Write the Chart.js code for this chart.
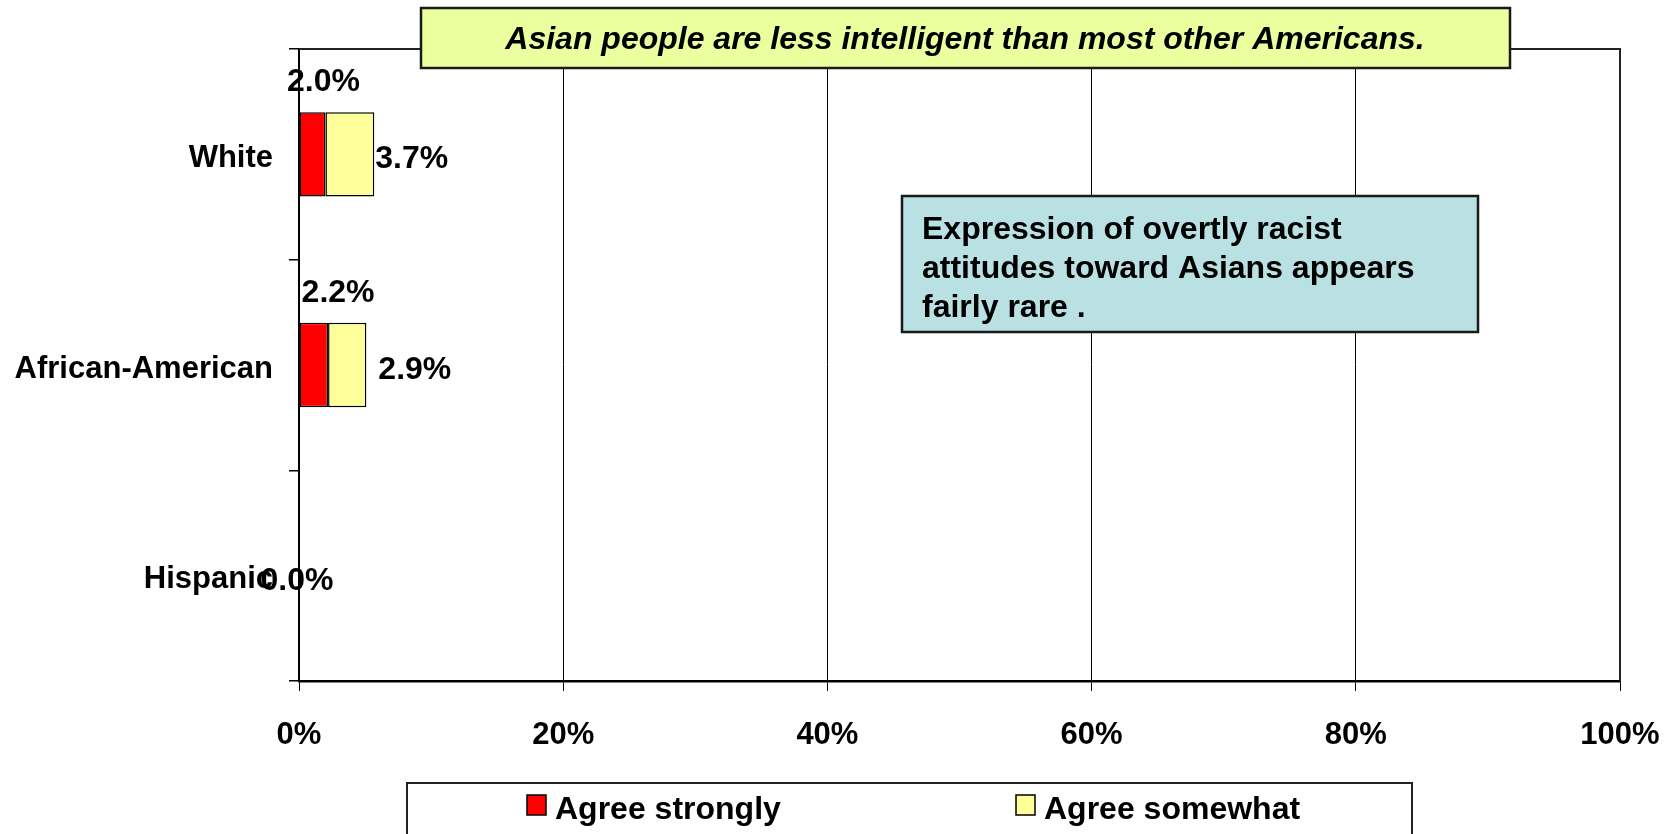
<!DOCTYPE html>
<html>
<head>
<meta charset="utf-8">
<script src="https://cdn.jsdelivr.net/npm/chart.js@4"></script>
<style>
html,body{margin:0;padding:0;background:#fff;}
#wrap{width:1677px;height:834px;}
</style>
</head>
<body>
<div id="wrap"><canvas id="c" width="1677" height="834"></canvas></div>
<script>
const categories = ['White', 'African-American', 'Hispanic'];
const seriesNames = ['Agree strongly', 'Agree somewhat'];
const agreeStrongly = [2.0, 2.2, 0.0];
const agreeSomewhat = [3.7, 2.9, 0.0];
const xTickValues = [0, 20, 40, 60, 80, 100];
const titleText = 'Asian people are less intelligent than most other Americans.';
const noteLines = ['Expression of overtly racist', 'attitudes toward Asians appears', 'fairly rare .'];

const FONT = '"Liberation Sans", Arial, sans-serif';
const fmt = v => v.toFixed(1) + '%';

const decorPlugin = {
  id: 'decor',
  beforeDatasetsDraw(chart) {
    const ctx = chart.ctx, a = chart.chartArea;
    ctx.save();
    ctx.strokeStyle = '#222';
    ctx.lineWidth = 2;
    ctx.beginPath();
    ctx.moveTo(a.left, a.top);
    ctx.lineTo(a.right, a.top);
    ctx.lineTo(a.right, a.bottom);
    ctx.stroke();
    ctx.restore();
  },
  afterDatasetsDraw(chart) {
    const ctx = chart.ctx;
    ctx.save();
    ctx.fillStyle = '#000';
    ctx.font = 'bold 32px ' + FONT;
    const m0 = chart.getDatasetMeta(0), m1 = chart.getDatasetMeta(1);
    const d0 = chart.data.datasets[0].data, d1 = chart.data.datasets[1].data;
    for (let i = 0; i < d0.length; i++) {
      const e0 = m0.data[i], e1 = m1.data[i];
      if (d0[i] === 0 && d1[i] === 0) {
        ctx.textAlign = 'center'; ctx.textBaseline = 'middle';
        ctx.fillText(fmt(0), e1.x - 2, e1.y + 6);
        continue;
      }
      ctx.textAlign = 'center'; ctx.textBaseline = 'middle';
      ctx.fillText(fmt(d0[i]), e0.x + 1 + (i === 0 ? -3 : 9), e0.y - e0.height / 2 - 30);
      ctx.textAlign = 'left';
      ctx.fillText(fmt(d1[i]), e1.x + (i === 0 ? 1 : 12), e1.y + 5);
    }
    ctx.restore();
  },
  afterDraw(chart) {
    const ctx = chart.ctx;
    ctx.save();
    ctx.fillStyle = '#EBFF9E';
    ctx.fillRect(421, 8, 1089, 60);
    ctx.strokeStyle = '#1a1a1a';
    ctx.lineWidth = 2.5;
    ctx.strokeRect(421, 8, 1089, 60);
    ctx.fillStyle = '#000';
    ctx.font = 'italic bold 32px ' + FONT;
    ctx.textAlign = 'center'; ctx.textBaseline = 'middle';
    ctx.fillText(titleText, 965, 40);
    ctx.fillStyle = '#B9E0E3';
    ctx.fillRect(902, 196, 576, 136);
    ctx.strokeRect(902, 196, 576, 136);
    ctx.fillStyle = '#000';
    ctx.font = 'bold 32px ' + FONT;
    ctx.textAlign = 'left';
    noteLines.forEach((t, k) => ctx.fillText(t, 922, 230 + k * 39));
    ctx.fillStyle = '#fff';
    ctx.lineWidth = 2;
    ctx.strokeStyle = '#222';
    ctx.fillRect(407, 783, 1005, 60);
    ctx.strokeRect(407, 783, 1005, 60);
    const lx = [527, 1016];
    chart.data.datasets.forEach((ds, k) => {
      ctx.fillStyle = ds.backgroundColor;
      ctx.fillRect(lx[k], 795, 19, 20);
      ctx.lineWidth = 1.5;
      ctx.strokeStyle = '#000';
      ctx.strokeRect(lx[k], 795, 19, 20);
      ctx.fillStyle = '#000';
      ctx.textAlign = 'left';
      ctx.fillText(ds.label, lx[k] + 28, 810);
    });
    ctx.restore();
  }
};

new Chart(document.getElementById('c'), {
  type: 'bar',
  data: {
    labels: categories,
    datasets: [
      { label: seriesNames[0], data: agreeStrongly, backgroundColor: '#FF0000', borderColor: '#000', borderWidth: 1.5, borderSkipped: false },
      { label: seriesNames[1], data: agreeSomewhat, backgroundColor: '#FFFF99', borderColor: '#000', borderWidth: 1.5, borderSkipped: false }
    ]
  },
  options: {
    indexAxis: 'y',
    responsive: false,
    animation: false,
    devicePixelRatio: 1,
    layout: { padding: { left: 0, top: 49, right: 57, bottom: 0 } },
    datasets: { bar: { barPercentage: 0.4, categoryPercentage: 1 } },
    plugins: { legend: { display: false }, title: { display: false }, tooltip: { enabled: false } },
    scales: {
      x: {
        stacked: true, min: 0, max: 100,
        afterBuildTicks: s => { s.ticks = xTickValues.map(v => ({ value: v })); },
        afterFit: s => { s.height = 153; s.paddingLeft = 0; s.paddingRight = 0; },
        ticks: { callback: v => v + '%', color: '#000', font: { family: FONT, size: 31, weight: 'bold' }, padding: 26, maxRotation: 0 },
        grid: { color: '#000', lineWidth: 1, drawTicks: true, tickLength: 10, tickColor: '#000' },
        border: { color: '#000', width: 2.5 }
      },
      y: {
        stacked: true,
        afterFit: s => { s.width = 299; s.paddingTop = 0; s.paddingBottom = 0; },
        ticks: { color: '#000', font: { family: FONT, size: 31, weight: 'bold' }, padding: 16, labelOffset: 4 },
        grid: { offset: true, drawOnChartArea: false, drawTicks: true, tickLength: 10, tickColor: '#000', lineWidth: 1.5 },
        border: { color: '#000', width: 2 }
      }
    }
  },
  plugins: [decorPlugin]
});
</script>
</body>
</html>
